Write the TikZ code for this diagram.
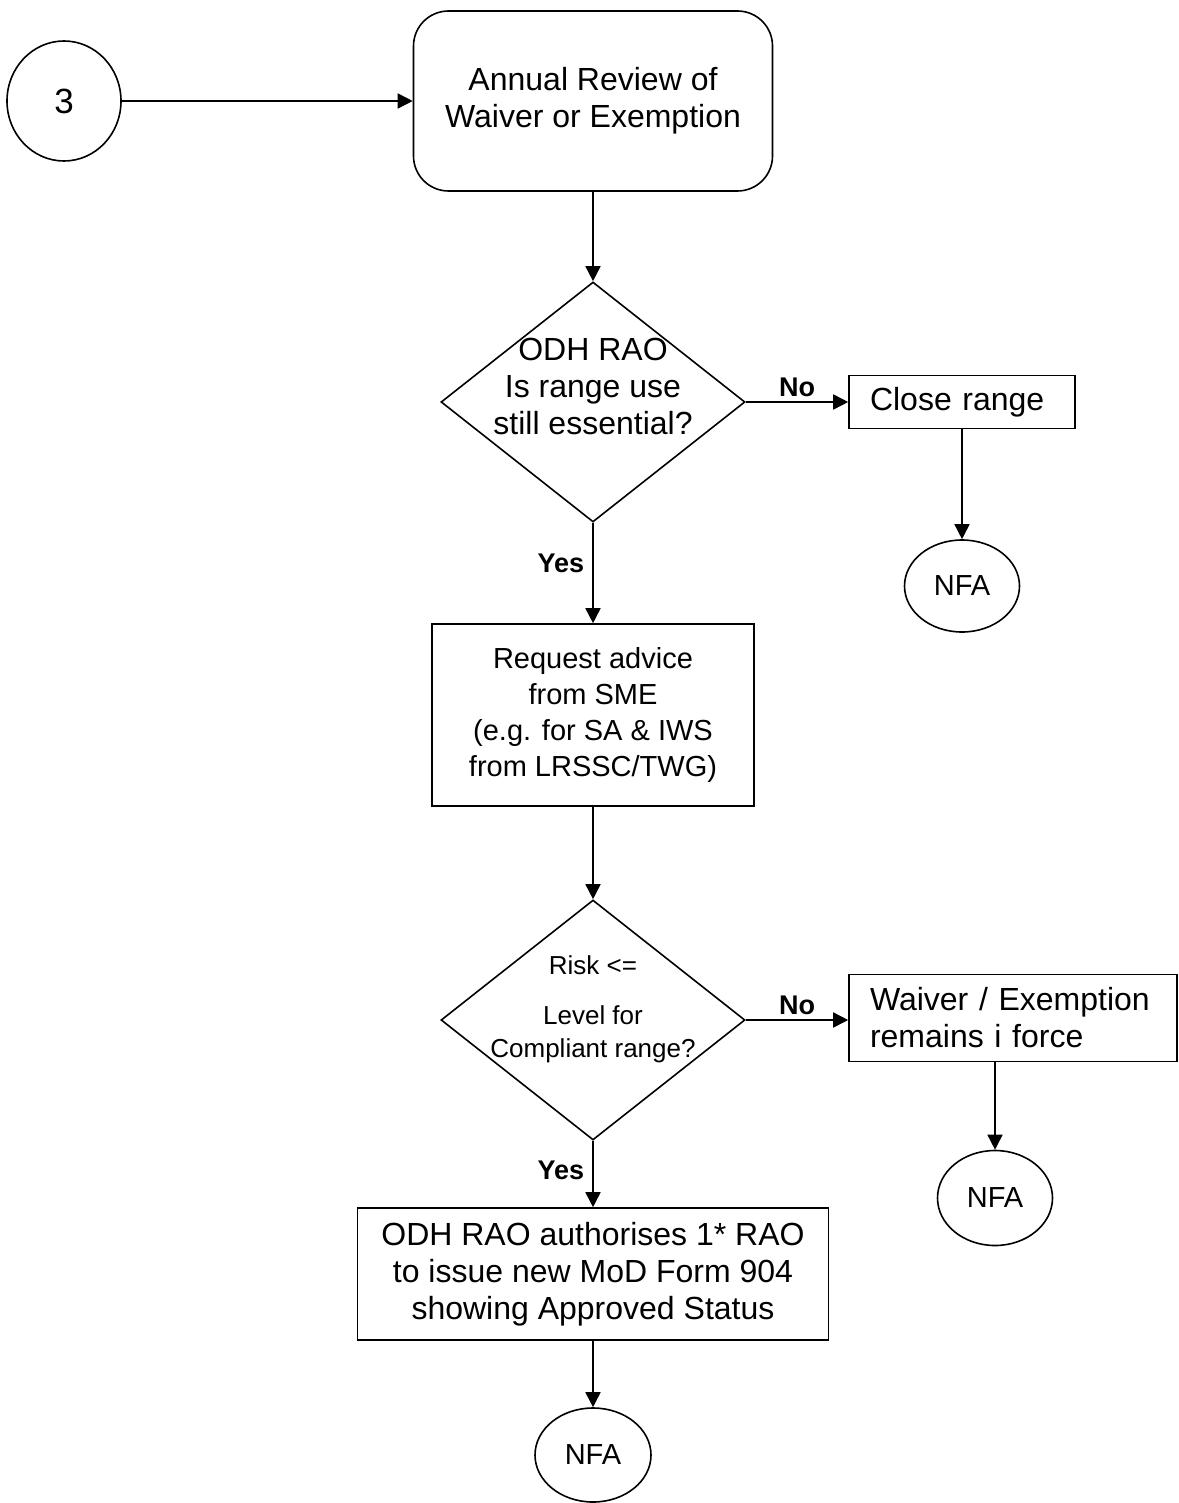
\documentclass[tikz,border=0pt]{standalone}
\usepackage{fontspec}
\setmainfont{Liberation Sans}
\usetikzlibrary{shapes.geometric, arrows.meta}

\begin{document}
\begin{tikzpicture}[x=1pt, y=-1pt, line width=1.6pt,
    flow/.style={-{Triangle[length=15pt, width=15pt]}},
    terminal/.style={ellipse, draw, inner sep=0pt, minimum width=115pt, minimum height=92pt, font=\myMid},
    process/.style={rectangle, draw, inner sep=0pt, align=center, font=\myBig},
    decision/.style={diamond, draw, inner sep=0pt, minimum width=304pt, minimum height=240pt},
    answer/.style={font=\myLabel\bfseries, inner sep=4pt}]
  \useasboundingbox (0, 0) rectangle (1178, 1503);
  %
  \newcommand{\myBig}{\fontsize{32}{37}\selectfont}
  \newcommand{\myMid}{\fontsize{29}{36}\selectfont}
  \newcommand{\mySmall}{\fontsize{26}{33}\selectfont}
  \newcommand{\myLabel}{\fontsize{27}{32}\selectfont}
  %
  \node[terminal, minimum width=114pt, minimum height=120pt, font=\fontsize{35}{40}\selectfont] at (64, 101) (start) {3};
  \node[process, rounded corners=35pt, minimum width=359pt, minimum height=180pt] at (593, 101) (review)
    {Annual Review of\\Waiver or Exemption};
  %
  \node[decision] at (593, 402) (essential) {};
  \node[align=center, font=\myBig, inner sep=0pt] at (593, 386) (essentialtext)
    {ODH RAO\\Is range use\\still essential?};
  \node[process, minimum width=226pt, minimum height=53pt, text width=184pt, align=left, inner xsep=21pt]
    at (962, 402) (close) {Close range};
  \node[terminal] at (962, 586) (nfaa) {NFA};
  %
  \node[process, minimum width=322pt, minimum height=182pt, font=\myMid] at (593, 715) (request)
    {Request advice\\from SME\\(e.g. for SA \& IWS\\from LRSSC/TWG)};
  %
  \node[decision] at (593, 1020) (risk) {};
  \node[align=center, font=\mySmall, inner sep=0pt] at (593, 1009) (risktext)
    {Risk <=\\[17pt]Level for\\Compliant range?};
  \node[process, minimum width=328pt, minimum height=87pt, text width=286pt, align=left, inner xsep=21pt]
    at (1013, 1018) (remains) {Waiver / Exemption\\remains i force};
  \node[terminal, minimum height=95pt] at (995, 1198) (nfab) {NFA};
  %
  \node[process, minimum width=471pt, minimum height=132pt] at (593, 1274) (authorise)
    {ODH RAO authorises 1* RAO\\to issue new MoD Form 904\\showing Approved Status};
  \node[terminal, minimum width=116pt, minimum height=94pt] at (593, 1455) (nfac) {NFA};
  %
  \draw[flow] (start) -- (review);
  \draw[flow] (review) -- (essential);
  \draw[flow] (essential) -- node[answer, above] (noa) {No} (close);
  \draw[flow] (close) -- (nfaa);
  \draw[flow] (essential) -- node[answer, left, pos=0.4, inner xsep=8pt] (yesa) {Yes} (request);
  \draw[flow] (request) -- (risk);
  \draw[flow] (risk.east) -- node[answer, above] (nob) {No} (risk.east -| remains.west);
  \draw[flow] (nfab |- remains.south) -- (nfab);
  \draw[flow] (risk) -- node[answer, left, pos=0.45, inner xsep=8pt] (yesb) {Yes} (authorise);
  \draw[flow] (authorise) -- (nfac);

\end{tikzpicture}
\end{document}
